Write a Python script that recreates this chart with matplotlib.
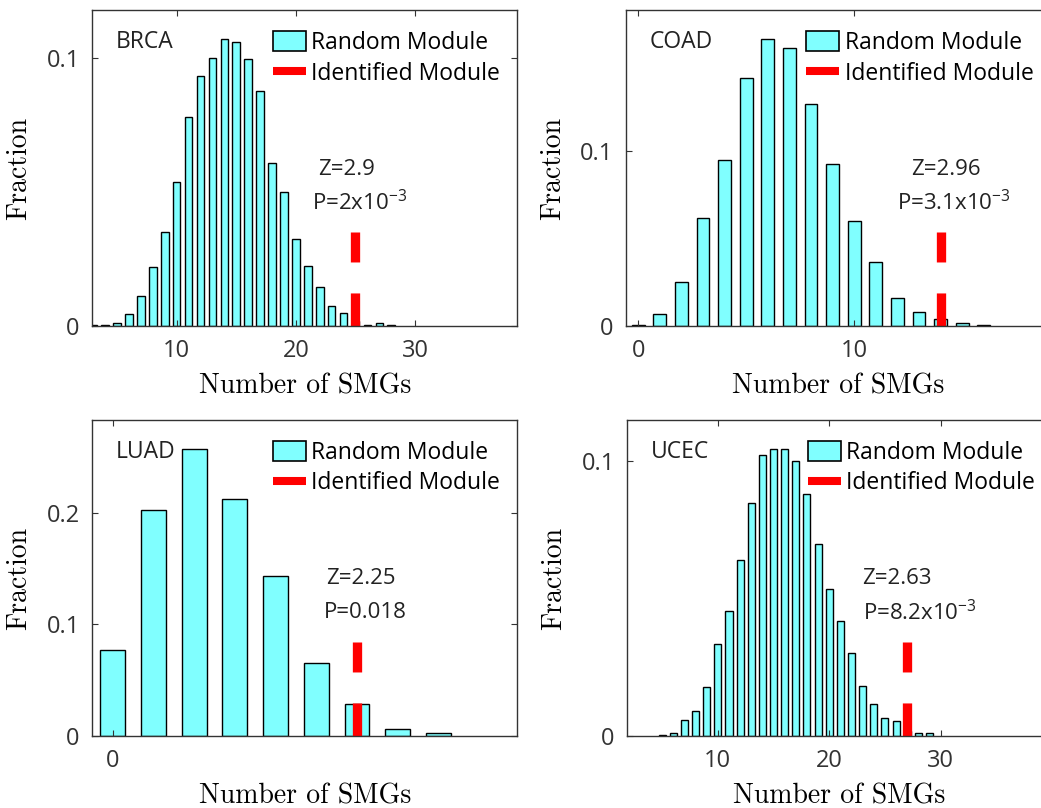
import numpy as np
import matplotlib.pyplot as plt
import matplotlib.transforms as mtransforms
from matplotlib.patches import Patch
from matplotlib.lines import Line2D

plt.rcParams['lines.scale_dashes'] = False

# fraction of random modules per number of SMGs
brca_smgs = np.arange(3, 29)
brca_frac = [0.0005, 0.0005, 0.0012, 0.0046, 0.0112, 0.0219, 0.035, 0.0539, 0.078,
             0.0932, 0.1001, 0.1071, 0.1061, 0.0996, 0.0877, 0.061, 0.0502, 0.0324,
             0.0225, 0.0144, 0.0075, 0.0047, 0.002, 0.0004, 0.001, 0.0003]
coad_smgs = np.arange(0, 17)
coad_frac = [0.0006, 0.0069, 0.0251, 0.0617, 0.0949, 0.1415, 0.1638, 0.159, 0.1272,
             0.0924, 0.06, 0.0368, 0.016, 0.0078, 0.0038, 0.0019, 0.0005]
luad_smgs = np.arange(0, 9)
luad_frac = [0.0773, 0.2024, 0.2567, 0.2125, 0.1436, 0.0651, 0.029, 0.0066, 0.0027]
ucec_smgs = np.arange(5, 30)
ucec_frac = [0.0005, 0.0012, 0.0058, 0.0091, 0.0177, 0.0333, 0.0456, 0.0641, 0.0847,
             0.1022, 0.1042, 0.1042, 0.1, 0.0879, 0.0698, 0.0535, 0.0418, 0.0302,
             0.0181, 0.0116, 0.0064, 0.0055, 0.002, 0.0012, 0.0012]

# identified module SMG counts and statistics
identified = {'BRCA': 25, 'COAD': 14, 'LUAD': 6, 'UCEC': 27}
z_text = {'BRCA': 'Z=2.9', 'COAD': 'Z=2.96', 'LUAD': 'Z=2.25', 'UCEC': 'Z=2.63'}
p_text = {'BRCA': 'P=2x10$^{-3}$', 'COAD': 'P=3.1x10$^{-3}$',
          'LUAD': 'P=0.018', 'UCEC': 'P=8.2x10$^{-3}$'}

plt.rcParams['mathtext.default'] = 'regular'
plt.rcParams['font.family'] = ['Open Sans', 'DejaVu Sans']

cyan = '#80FFFF'
tick_col = '#333333'

fig = plt.figure(figsize=(10.41, 8.08), dpi=100)

panels = [
    ('BRCA', brca_smgs, brca_frac, [0.0887, 0.5965, 0.408, 0.391], (2.93, 38.55), 0.118,
     [10, 20, 30], [0, 0.1], (0.532, 0.517), 0.64),
    ('COAD', coad_smgs, coad_frac, [0.6013, 0.5965, 0.408, 0.391], (-0.57, 19.1), 0.1806,
     [0, 10], [0, 0.1], (0.672, 0.637), 0.59),
    ('LUAD', luad_smgs, luad_frac, [0.0887, 0.0891, 0.408, 0.391], (-0.5, 9.93), 0.283,
     [0], [0, 0.1, 0.2], (0.550, 0.545), 0.61),
    ('UCEC', ucec_smgs, ucec_frac, [0.6026, 0.0891, 0.408, 0.391], (1.87, 40.0), 0.1149,
     [10, 20, 30], [0, 0.1], (0.554, 0.554), 0.63),
]

for name, xs, fr, pos, xlim, ytop, xt, yt, zx, bw in panels:
    ax = fig.add_axes(pos)
    ax.bar(xs, fr, bw, color=cyan, edgecolor='black', linewidth=1.0)

    # identified module as a dashed red marker
    trans = mtransforms.blended_transform_factory(ax.transData, ax.transAxes)
    ln, = ax.plot([identified[name], identified[name]], [0, 0.297], color='red',
                  lw=6.7, transform=trans, solid_capstyle='butt', dash_capstyle='butt')
    ln.set_dashes([23.8, 22.3, 21.6, 30])

    ax.set_xlim(*xlim)
    ax.set_ylim(0, ytop)
    ax.set_xticks(xt)
    ax.set_yticks(yt)
    ax.set_yticklabels(['0' if v == 0 else '%g' % v for v in yt])
    ax.tick_params(direction='in', length=4, width=0.8, top=True, right=True,
                   labelsize=17, labelcolor=tick_col, color='#333333')
    ax.tick_params(axis='x', pad=9)
    ax.tick_params(axis='y', pad=9)
    for s in ax.spines.values():
        s.set_linewidth(1.0)
        s.set_color('#333333')

    ax.set_xlabel('Number of SMGs', family='cmr10', fontsize=20, labelpad=8)
    ax.set_ylabel('Fraction', family='cmr10', fontsize=20, labelpad=10)

    ax.text(0.055, 0.898, name, transform=ax.transAxes, fontsize=16.5,
            ha='left', va='center', color='#222222')
    ax.text(zx[0], 0.497, z_text[name], transform=ax.transAxes, fontsize=16,
            ha='left', va='center', color='#222222')
    ax.text(zx[1], 0.39, p_text[name], transform=ax.transAxes, fontsize=16,
            ha='left', va='center', color='#222222')

    handles = [Patch(facecolor=cyan, edgecolor='black', linewidth=1.2),
               Line2D([], [], color='red', lw=5.8, solid_capstyle='butt')]
    ax.legend(handles, ['Random Module', 'Identified Module'], loc='upper left',
              bbox_to_anchor=(0.425, 0.935), frameon=False, borderpad=0,
              borderaxespad=0, fontsize=16.5, handlelength=1.44, handleheight=0.96,
              handletextpad=0.22, labelspacing=0.3)

fig.savefig('out.png', dpi=100)
